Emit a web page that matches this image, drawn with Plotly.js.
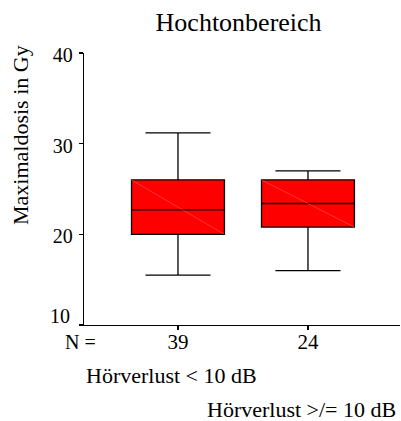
<!DOCTYPE html>
<html>
<head>
<meta charset="utf-8">
<script src="https://cdn.plot.ly/plotly-3.0.1.min.js"></script>
<style>html,body{margin:0;padding:0;background:#fff;}#chart{width:401px;height:421px;}</style>
</head>
<body>
<div id="chart"></div>
<script>
const groups = ["Hörverlust < 10 dB", "Hörverlust >/= 10 dB"];
const nLabels = ["39", "24"];
const lowerWhisker = [15.5, 16.0];
const q1 = [20.0, 20.8];
const median = [22.7, 23.4];
const q3 = [26.0, 26.0];
const upperWhisker = [31.2, 27.0];
const yTicks = [10, 20, 30, 40];

const FONT = "'Liberation Serif', 'Times New Roman', Times, serif";
const pos = groups.map((g, i) => i);
const boxWidth = 0.715;

const traces = [{
  type: "box",
  x: pos,
  q1: q1, median: median, q3: q3,
  lowerfence: lowerWhisker, upperfence: upperWhisker,
  width: boxWidth,
  whiskerwidth: 0.7,
  fillcolor: "#ff0000",
  line: {color: "#000000", width: 1.3},
  boxpoints: false,
  hoverinfo: "skip",
  showlegend: false
}];
// faint diagonal inside each box (as in the original rendering)
pos.forEach((p, i) => {
  traces.push({
    type: "scatter", mode: "lines",
    x: [p - boxWidth/2, p + boxWidth/2],
    y: [q3[i], q1[i]],
    line: {color: "rgba(255,130,130,0.6)", width: 0.7},
    hoverinfo: "skip", showlegend: false
  });
});

const annotations = [
  {text: "N =", xref: "paper", yref: "paper", x: 0.043, y: -0.0625, xanchor: "right", yanchor: "middle", showarrow: false, font: {family: FONT, size: 20, color: "#000"}},
  {text: "Maximaldosis in Gy", xref: "paper", yref: "paper", x: -0.2025, y: 0.6985, textangle: -90, xanchor: "center", yanchor: "middle", showarrow: false, font: {family: FONT, size: 22, color: "#000"}},
  // lowest y tick label sits a little higher, clear of the "N =" row
  {text: String(yTicks[0]), xref: "paper", yref: "y", x: 0, xshift: -12, y: yTicks[0], yshift: 9, xanchor: "right", yanchor: "middle", showarrow: false, font: {family: FONT, size: 20, color: "#000"}}
];
const labelY = [-0.184, -0.309];
groups.forEach((g, i) => {
  annotations.push({text: g, xref: "x", yref: "paper", x: pos[i], xshift: -6, y: labelY[i], xanchor: "center", yanchor: "middle", showarrow: false, font: {family: FONT, size: 22, color: "#000"}});
});

const layout = {
  width: 401, height: 421,
  margin: {l: 84, r: 1, t: 53, b: 96},
  paper_bgcolor: "#fff", plot_bgcolor: "#fff",
  font: {family: FONT, size: 20, color: "#000"},
  title: {text: "Hochtonbereich", xref: "container", x: 0.595, xanchor: "center", yref: "container", y: 0.947, yanchor: "middle", font: {family: FONT, size: 26, color: "#000"}},
  xaxis: {
    range: [-0.723, 1.708],
    tickvals: pos, ticktext: nLabels,
    ticks: "outside", ticklen: 4, tickcolor: "#000", tickwidth: 1.2,
    ticklabelstandoff: -7,
    showline: true, linecolor: "#000", linewidth: 1.3,
    showgrid: false, zeroline: false,
    tickfont: {family: FONT, size: 21, color: "#000"}
  },
  yaxis: {
    range: [10, 40],
    tickvals: yTicks, ticktext: yTicks.map((v, i) => i === 0 ? "" : String(v)),
    ticks: "outside", ticklen: 4, tickcolor: "#000", tickwidth: 1.2,
    ticklabelstandoff: 2, ticklabelshift: 2,
    showline: true, linecolor: "#000", linewidth: 1.3,
    showgrid: false, zeroline: false,
    tickfont: {family: FONT, size: 20, color: "#000"}
  },
  annotations: annotations
};
Plotly.newPlot("chart", traces, layout, {displayModeBar: false, staticPlot: true});
</script>
</body>
</html>
